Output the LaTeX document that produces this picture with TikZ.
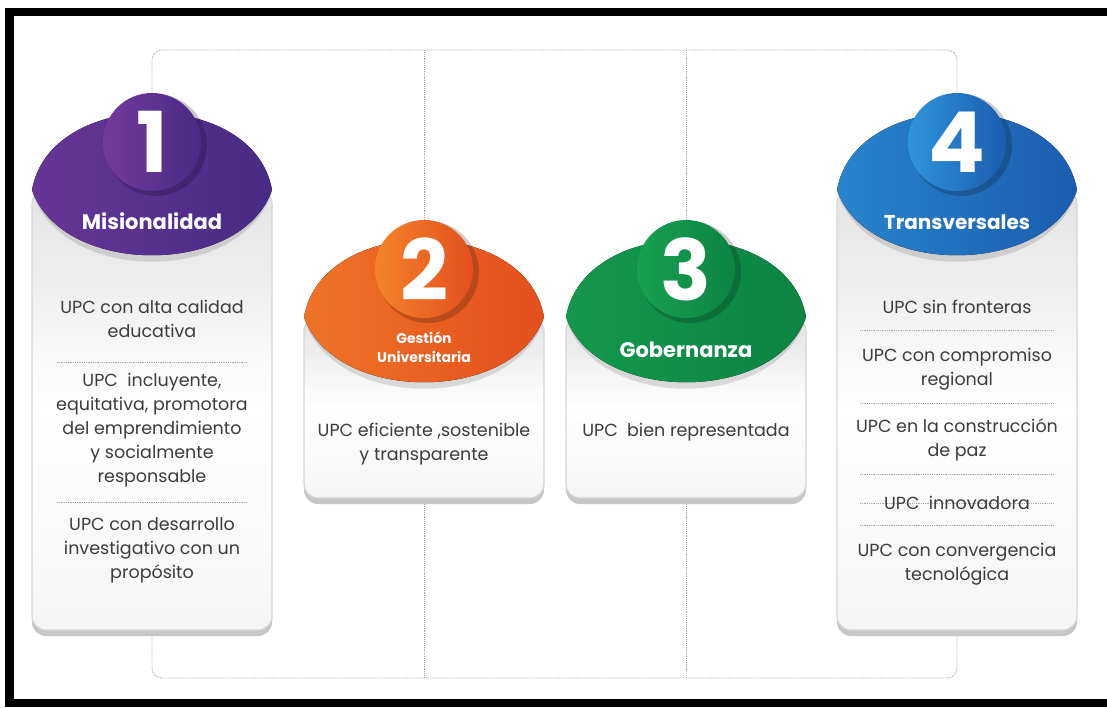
\documentclass[tikz,border=0pt]{standalone}
\usepackage{fontspec}
\setmainfont{Poppins}
\usetikzlibrary{backgrounds}

\definecolor{ink}{HTML}{3C3C3C}
\definecolor{rule}{HTML}{A8A8A8}
\definecolor{purpleD}{HTML}{472B85}
\definecolor{purpleL}{HTML}{743A9E}
\definecolor{orangeD}{HTML}{E44F1E}
\definecolor{orangeL}{HTML}{F3832A}
\definecolor{greenD}{HTML}{0C8443}
\definecolor{greenL}{HTML}{17A050}
\definecolor{blueD}{HTML}{1A5DAE}
\definecolor{blueL}{HTML}{2F95DA}

\tikzset{
  link/.style={draw=rule, densely dotted, line width=0.9pt},
  sep/.style={draw=rule, densely dotted, line width=0.8pt},
  item/.style={text=ink, align=center, inner sep=0pt,
    font=\fontsize{17.5}{24}\selectfont},
  head/.style={text=white, align=center, inner sep=0pt,
    font=\bfseries\fontsize{21}{24}\selectfont},
  numdisc/.style={circle, minimum size=98pt, inner sep=0pt, text=white,
    font=\bfseries\fontsize{84}{84}\selectfont},
}

% #1 number, #2 centre x, #3 cap tip y, #4 foot y, #5 dark, #6 light
\newcommand{\pillar}[6]{
  % card with its grey foot
  \fill[black!22, rounded corners=14] (#2-120,#3) rectangle (#2+120,#4);
  \draw[black!16, line width=1.2pt, rounded corners=14,
    top color=black!11, bottom color=black!4, middle color=white]
    (#2-120,#3) rectangle (#2+120,#4-6);
  \coordinate (base#1) at (#2,#4);
  % cap
  \fill[black, opacity=.12] (#2-120,#3+2) .. controls (#2-90,#3+95)
    and (#2+90,#3+95) .. (#2+120,#3+2) -- cycle;
  \fill[left color=#6!70!#5, right color=#5] (#2-120,#3) ..
    controls (#2-102,#3-103) and (#2+102,#3-103) .. (#2+120,#3) ..
    controls (#2+90,#3+87) and (#2-90,#3+87) .. cycle;
  \fill[black, opacity=.2] (#2+4,#3-45) circle (51pt);
  \node[numdisc, left color=#6, right color=#5] (num#1) at (#2,#3-48) {#1};
}

\begin{document}
\begin{tikzpicture}[x=1pt, y=-1pt]
  \useasboundingbox (0,0) rectangle (1107,708);

  % frame
  \fill[black] (5,8) rectangle (14,707);
  \fill[black] (5,8) rectangle (1107,16);
  \fill[black] (5,699) rectangle (1107,707);

  \pillar{1}{152}{190}{636}{purpleD}{purpleL}
  \pillar{2}{424}{317}{504}{orangeD}{orangeL}
  \pillar{3}{686}{317}{504}{greenD}{greenL}
  \pillar{4}{957}{190}{636}{blueD}{blueL}

  \node[head] (h1) at (152,221) {Misionalidad};
  \node[head, font=\bfseries\fontsize{14}{19}\selectfont] (h2) at (424,347)
    {Gestión\\Universitaria};
  \node[head] (h3) at (686,350) {Gobernanza};
  \node[head, font=\bfseries\fontsize{20}{24}\selectfont] (h4) at (957,222)
    {Transversales};

  % misionalidad
  \node[item] (m1) at (152,319) {UPC con alta calidad\\educativa};
  \draw[sep] (57,362) -- (247,362);
  \node[item] (m2) at (152,430) {UPC\ \ incluyente,\\equitativa, promotora\\
    del emprendimiento\\y socialmente\\responsable};
  \draw[sep] (57,502) -- (247,502);
  \node[item] (m3) at (152,550) {UPC con desarrollo\\investigativo con un\\
    propósito};

  % gestion y gobernanza
  \node[item] (g1) at (424,444) {UPC eficiente ,sostenible\\y transparente};
  \node[item] (b1) at (686,432) {UPC\ \ bien representada};

  % transversales
  \node[item] (t1) at (957,307) {UPC sin fronteras};
  \draw[sep] (860,330) -- (1054,330);
  \node[item] (t2) at (957,369) {UPC con compromiso\\regional};
  \draw[sep] (860,403) -- (1054,403);
  \node[item] (t3) at (957,440) {UPC en la construcción\\de paz};
  \draw[sep] (860,474) -- (1054,474);
  \draw[sep] (860,503) -- (1054,503);
  \node[item] (t4) at (957,503) {UPC\ \ innovadora};
  \draw[sep] (860,525) -- (1054,525);
  \node[item] (t5) at (957,564) {UPC con convergencia\\tecnológica};

  % dotted rails behind the cards
  \begin{pgfonlayer}{background}
    \fill[white] (0,0) rectangle (1107,708);
    \coordinate (rail) at (0,50);
    \coordinate (floor) at (0,678);
    \draw[link, rounded corners=10] (num1.north) |- (num2 |- rail)
      -| (num4.north);
    \draw[link, rounded corners=10] (base1) |- (num2 |- floor)
      -| (base4);
    \draw[link] (num2 |- rail) -- (num2 |- floor);
    \draw[link] (num3 |- rail) -- (num3 |- floor);
  \end{pgfonlayer}
\end{tikzpicture}
\end{document}
